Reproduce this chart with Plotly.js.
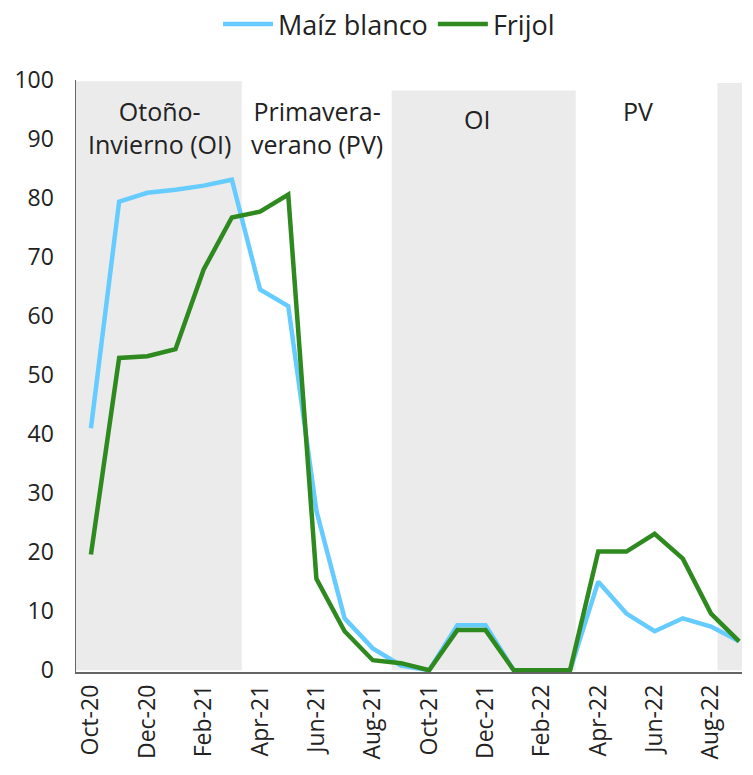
<!DOCTYPE html>
<html>
<head>
<meta charset="utf-8">
<script src="https://cdn.plot.ly/plotly-3.0.1.min.js"></script>
<style>html,body{margin:0;padding:0;background:#fff;}#chart{width:753px;height:775px;}</style>
</head>
<body>
<div id="chart"></div>
<script>
const months = ["Oct-20","Nov-20","Dec-20","Jan-21","Feb-21","Mar-21","Apr-21","May-21","Jun-21","Jul-21","Aug-21","Sep-21",
                "Oct-21","Nov-21","Dec-21","Jan-22","Feb-22","Mar-22","Apr-22","May-22","Jun-22","Jul-22","Aug-22","Sep-22"];
const maizBlanco = [41.0,79.4,80.9,81.4,82.1,83.1,64.5,61.7,27.0,8.8,3.7,0.8,0,7.6,7.6,0,0,0,15.0,9.6,6.6,8.8,7.4,4.9];
const frijol = [19.6,52.9,53.2,54.4,67.9,76.7,77.7,80.6,15.5,6.6,1.7,1.2,0,6.8,6.8,0,0,0,20.1,20.1,23.1,18.9,9.6,4.9];
const tickLabels = ["Oct-20","Dec-20","Feb-21","Apr-21","Jun-21","Aug-21","Oct-21","Dec-21","Feb-22","Apr-22","Jun-22","Aug-22"];
const seasonLabels = ["Otoño-<br>Invierno (OI)","Primavera-<br>verano (PV)","OI","PV"];

const idx = months.map((m,i)=>i);
const tickVals = tickLabels.map(t=>months.indexOf(t));
const FONT = "Open Sans, Liberation Sans, sans-serif";

const traces = [
  {x: idx, y: maizBlanco, name: "Maíz blanco", type: "scatter", mode: "lines",
   line: {color: "#66CCFF", width: 4.5}, text: months, hoverinfo: "text+y"},
  {x: idx, y: frijol, name: "Frijol", type: "scatter", mode: "lines",
   line: {color: "#2E8A1F", width: 4.5}, text: months, hoverinfo: "text+y"}
];

const gray = "#EBEBEB";
const shapes = [
  {type:"rect", layer:"below", xref:"x", yref:"y", x0:-0.6, x1:5.35, y0:0, y1:99.8, fillcolor:gray, line:{width:0}},
  {type:"rect", layer:"below", xref:"x", yref:"y", x0:10.67, x1:17.2, y0:0, y1:98.2, fillcolor:gray, line:{width:0}},
  {type:"rect", layer:"below", xref:"x", yref:"y", x0:22.23, x1:24, y0:0, y1:99.5, fillcolor:gray, line:{width:0}}
];

const annotations = [
  {text: seasonLabels[0], x: 2.43, y: 98.0, xref:"x", yref:"y", showarrow:false, yanchor:"top", align:"center"},
  {text: seasonLabels[1], x: 8.03, y: 98.0, xref:"x", yref:"y", showarrow:false, yanchor:"top", align:"center"},
  {text: seasonLabels[2], x: 13.68, y: 96.6, xref:"x", yref:"y", showarrow:false, yanchor:"top", align:"center"},
  {text: seasonLabels[3], x: 19.4, y: 98.0, xref:"x", yref:"y", showarrow:false, yanchor:"top", align:"center"}
].map(a => Object.assign(a, {font:{family:FONT, size:25, color:"#222"}}));

const layout = {
  width: 753, height: 775,
  margin: {l: 76, r: 11, t: 80, b: 103},
  paper_bgcolor: "#fff", plot_bgcolor: "#fff",
  font: {family: FONT, size: 23, color: "#222"},
  showlegend: true,
  legend: {orientation: "h", x: 0.47, xanchor: "center", xref: "paper", y: 1.0, yref: "container", yanchor: "top",
           itemwidth: 50, itemgap: 24,
           font: {family: FONT, size: 27, color: "#222"}, bgcolor: "rgba(0,0,0,0)"},
  xaxis: {range: [-0.53, 23.1], tickmode: "array", tickvals: tickVals, ticktext: tickLabels, tickangle: -90,
          showgrid: false, zeroline: false, showline: true, linecolor: "#666", linewidth: 1.5, ticks: "",
          tickfont: {family: FONT, size: 23, color: "#222"}, ticklabelstandoff: 2, fixedrange: true},
  yaxis: {range: [-0.3, 100], tickmode: "array", tickvals: [0,10,20,30,40,50,60,70,80,90,100],
          showgrid: false, zeroline: false, showline: true, linecolor: "#666", linewidth: 1.5, ticks: "",
          tickfont: {family: FONT, size: 23, color: "#222"}, ticklabelstandoff: 16, fixedrange: true},
  shapes: shapes,
  annotations: annotations
};

Plotly.newPlot("chart", traces, layout, {displayModeBar: false, staticPlot: true});
</script>
</body>
</html>
